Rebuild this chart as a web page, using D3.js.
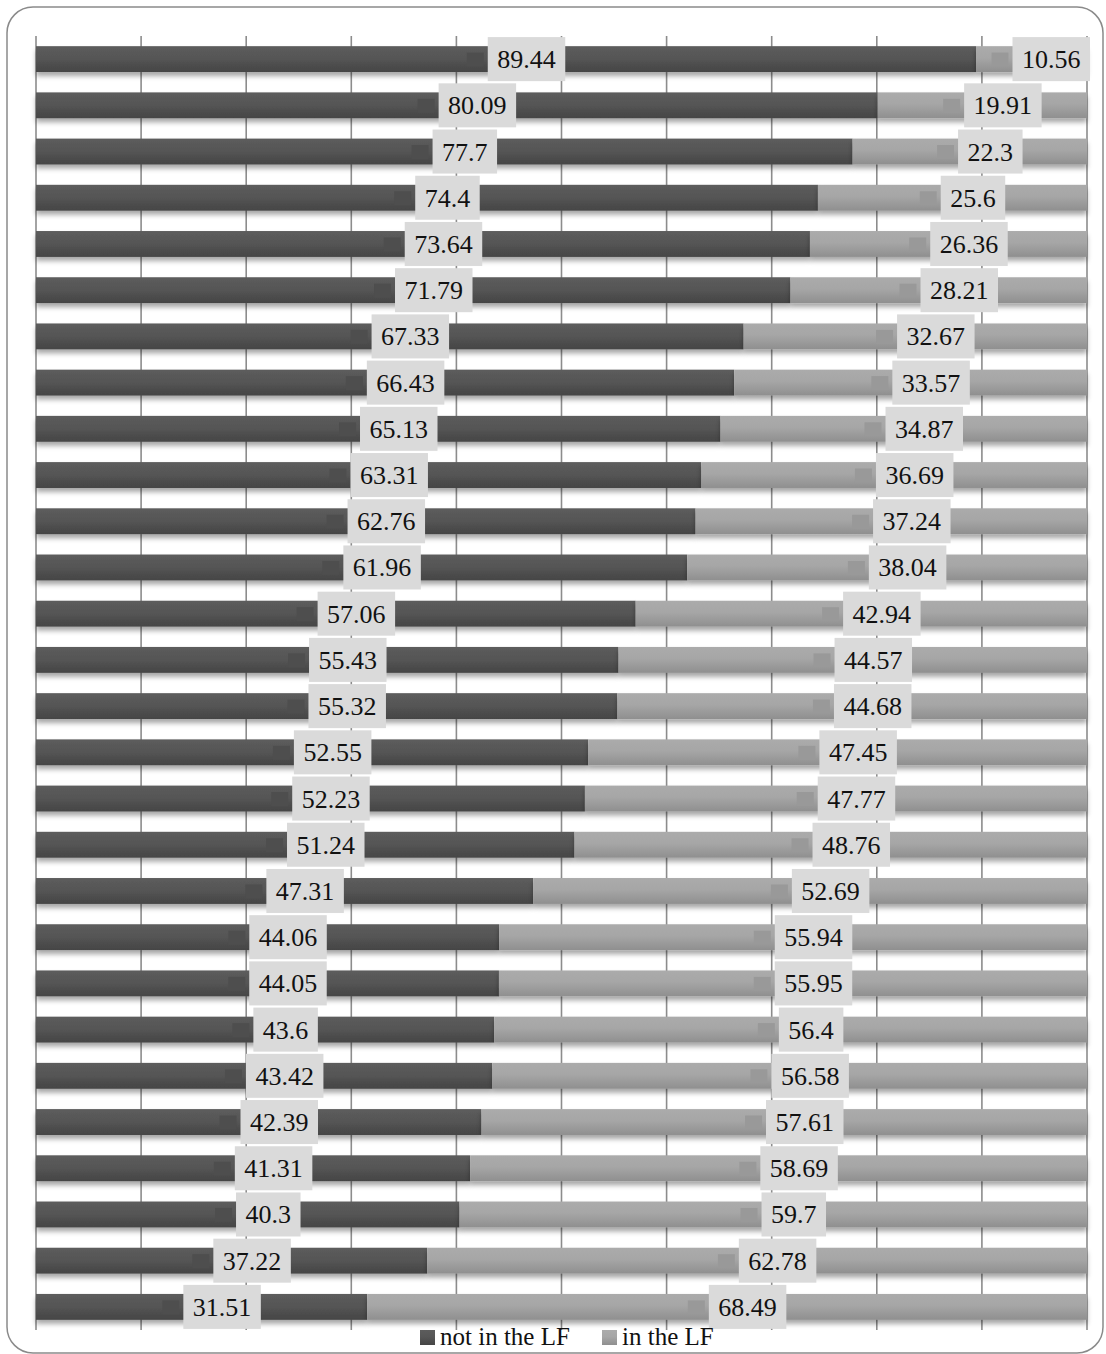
<!DOCTYPE html>
<html>
<head>
<meta charset="utf-8">
<script src="https://cdn.jsdelivr.net/npm/d3@7"></script>
<style>
  body { margin: 0; background: #fff; }
  svg text { font-family: "Liberation Serif", "Times New Roman", serif; }
</style>
</head>
<body>
<svg id="chart"></svg>
<script>
// data, top row first
const rows = d3.range(28);
const notInLF = [89.44, 80.09, 77.7, 74.4, 73.64, 71.79, 67.33, 66.43, 65.13, 63.31, 62.76, 61.96, 57.06, 55.43,
                 55.32, 52.55, 52.23, 51.24, 47.31, 44.06, 44.05, 43.6, 43.42, 42.39, 41.31, 40.3, 37.22, 31.51];
const inLF = [10.56, 19.91, 22.3, 25.6, 26.36, 28.21, 32.67, 33.57, 34.87, 36.69, 37.24, 38.04, 42.94, 44.57,
              44.68, 47.45, 47.77, 48.76, 52.69, 55.94, 55.95, 56.4, 56.58, 57.61, 58.69, 59.7, 62.78, 68.49];
const seriesNames = ["not in the LF", "in the LF"];
const ticks = [0, 10, 20, 30, 40, 50, 60, 70, 80, 90, 100];

const width = 1106, height = 1354;
const margin = {top: 36, right: 19, bottom: 24, left: 36};

const svg = d3.select("#chart")
    .attr("width", width)
    .attr("height", height);

// gradients + shadow
const defs = svg.append("defs");
function grad(id, c1, c2, c3) {
    const g = defs.append("linearGradient").attr("id", id)
        .attr("x1", 0).attr("y1", 0).attr("x2", 0).attr("y2", 1);
    g.append("stop").attr("offset", "0%").attr("stop-color", c1);
    g.append("stop").attr("offset", "45%").attr("stop-color", c2);
    g.append("stop").attr("offset", "100%").attr("stop-color", c3);
}
grad("gDark", "#5c5c5c", "#565656", "#454545");
grad("gLight", "#ababab", "#a6a6a6", "#8f8f8f");
const f = defs.append("filter").attr("id", "shadow")
    .attr("x", "-5%").attr("y", "-20%").attr("width", "110%").attr("height", "160%");
f.append("feDropShadow").attr("dx", 0).attr("dy", 4).attr("stdDeviation", 2.5)
    .attr("flood-color", "#000").attr("flood-opacity", 0.35);

// outer frame
svg.append("rect")
    .attr("x", 7).attr("y", 7)
    .attr("width", 1096).attr("height", 1346)
    .attr("rx", 26).attr("ry", 26)
    .attr("fill", "#fff")
    .attr("stroke", "#8a8a8a")
    .attr("stroke-width", 1.5);

const x = d3.scaleLinear()
    .domain([0, 100])
    .range([margin.left, width - margin.right]);

const y = d3.scaleBand()
    .domain(rows)
    .range([margin.top, height - margin.bottom])
    .paddingInner(0.44)
    .paddingOuter(0.22);

// gridlines
svg.append("g")
    .selectAll("line")
    .data(ticks)
    .enter().append("line")
    .attr("x1", d => x(d)).attr("x2", d => x(d))
    .attr("y1", margin.top).attr("y2", height - margin.bottom)
    .attr("stroke", "#8c8c8c")
    .attr("stroke-width", 1.6);

// stacked data
const data = rows.map(i => ({row: i, a: notInLF[i], b: inLF[i]}));
const stack = d3.stack().keys(["a", "b"])(data);
const fills = ["url(#gDark)", "url(#gLight)"];
const keyColors = ["#4e4e4e", "#999999"];

const bars = svg.append("g");
stack.forEach((layer, li) => {
    bars.selectAll(".bar" + li)
        .data(layer)
        .enter().append("rect")
        .attr("class", "bar" + li)
        .attr("x", d => x(d[0]))
        .attr("width", d => x(d[1]) - x(d[0]))
        .attr("y", (d, i) => y(i))
        .attr("height", y.bandwidth())
        .attr("fill", fills[li])
        .attr("filter", "url(#shadow)");
});

// data labels with legend keys
const labels = svg.append("g");
const boxH = 44, keyS = 17, gap = 4;
stack.forEach((layer, li) => {
    layer.forEach((d, i) => {
        const cx = (x(d[0]) + x(d[1])) / 2 + 10;
        const cy = y(i) + y.bandwidth() / 2;
        const g = labels.append("g");
        const keyRect = g.append("rect");
        const box = g.append("rect");
        const txt = g.append("text")
            .attr("y", cy + 9)
            .attr("text-anchor", "middle")
            .style("font-size", "26px")
            .attr("fill", "#111")
            .text(li === 0 ? notInLF[i] : inLF[i]);
        const boxW = txt.node().getComputedTextLength() + 19;
        let left = cx - (keyS + gap + boxW) / 2;
        if (left + keyS + gap + boxW > width - 16) left = width - 16 - (keyS + gap + boxW);
        keyRect
            .attr("x", left).attr("y", cy - keyS / 2 + 2)
            .attr("width", keyS).attr("height", keyS - 3)
            .attr("fill", keyColors[li]);
        box
            .attr("x", left + keyS + gap).attr("y", cy - boxH / 2)
            .attr("width", boxW).attr("height", boxH)
            .attr("fill", "#dadada");
        txt.attr("x", left + keyS + gap + boxW / 2);
    });
});

// legend
const legend = svg.append("g");
const legX = [420, 602];
seriesNames.forEach((name, i) => {
    legend.append("rect")
        .attr("x", legX[i]).attr("y", 1330)
        .attr("width", 15).attr("height", 15)
        .attr("fill", fills[i]);
    legend.append("text")
        .attr("x", legX[i] + 20).attr("y", 1345)
        .style("font-size", "25px")
        .attr("fill", "#111")
        .text(name);
});
</script>
</body>
</html>
